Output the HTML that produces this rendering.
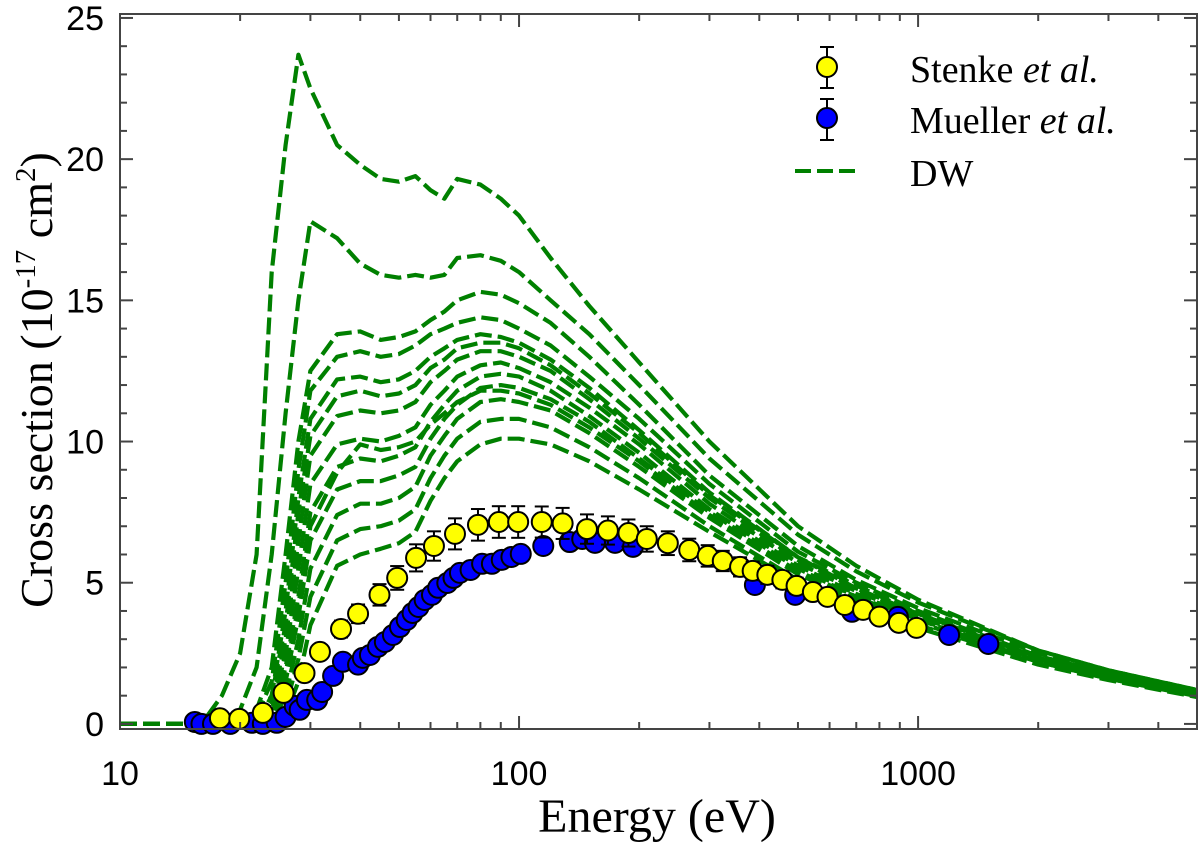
<!DOCTYPE html>
<html><head><meta charset="utf-8"><style>
html,body{margin:0;padding:0;background:#fff;}
svg{display:block;}
</style></head><body>
<svg id="chart" width="1200" height="845" xmlns="http://www.w3.org/2000/svg">
<rect x="0" y="0" width="1200" height="845" fill="#fff"/>
<g id="curves"></g>
<g id="points"></g>
<g id="axes"></g>
<text x="657" y="832" text-anchor="middle" font-family="Liberation Serif, serif" font-size="48">Energy (eV)</text>
<text transform="translate(52,380) rotate(-90)" text-anchor="middle" font-family="Liberation Serif, serif" font-size="46">Cross section (10<tspan dy="-17" font-size="29">-17</tspan><tspan dy="17"> cm</tspan><tspan dy="-17" font-size="29">2</tspan><tspan dy="17">)</tspan></text>
<g>
 <g>
  <line x1="827" y1="47" x2="827" y2="88" stroke="#000" stroke-width="2"/>
  <line x1="820" y1="47" x2="834" y2="47" stroke="#000" stroke-width="2"/>
  <line x1="820" y1="88" x2="834" y2="88" stroke="#000" stroke-width="2"/>
  <circle cx="827" cy="67" r="10" fill="#ffff00" stroke="#000" stroke-width="2"/>
  <text x="910" y="82" font-family="Liberation Serif, serif" font-size="38">Stenke <tspan font-style="italic">et al.</tspan></text>
 </g>
 <g>
  <line x1="827" y1="99" x2="827" y2="140" stroke="#000" stroke-width="2"/>
  <line x1="820" y1="99" x2="834" y2="99" stroke="#000" stroke-width="2"/>
  <line x1="820" y1="140" x2="834" y2="140" stroke="#000" stroke-width="2"/>
  <circle cx="827" cy="118" r="10" fill="#0000ff" stroke="#000" stroke-width="2"/>
  <text x="910" y="133" font-family="Liberation Serif, serif" font-size="38">Mueller <tspan font-style="italic">et al.</tspan></text>
 </g>
 <g>
  <line x1="795" y1="171" x2="858" y2="171" stroke="#008000" stroke-width="4" stroke-dasharray="16,6"/>
  <text x="910" y="186" font-family="Liberation Serif, serif" font-size="38">DW</text>
 </g>
</g>
</svg>
<script>
const energyGrid=[10,16,18,20,22,24,26,28,30,35,40,45,50,55,60,65,70,80,90,100,120,150,200,300,500,700,1000,2000,3000,5000];
const dw1=[0,0,1,2.5,6,16,20.5,23.7,22.5,20.5,19.8,19.3,19.2,19.4,18.9,18.6,19.3,19.1,18.6,18,16.5,14.8,12.8,10,7,5.6,4.4,2.6,1.9,1.2];
const dw2=[0,0,0,0.5,2,6,11,15,17.8,17.2,16.3,15.9,15.8,15.9,15.8,15.9,16.5,16.6,16.4,16,15,13.8,12,9.4,6.7,5.4,4.3,2.6,1.9,1.2];
const dw3=[0,0,0,0,0.5,2,6,10,12.5,13.8,13.9,13.6,13.7,13.9,14.3,14.6,15,15.3,15.2,14.9,14.2,13,11.3,8.8,6.3,5.1,4.1,2.5,1.8,1.1];
const dw4=[0,0,0,0,0.3,1.5,5,9,11.8,13,13.2,13,13.1,13.4,13.8,14,14.2,14.4,14.3,14,13.4,12.3,10.8,8.5,6.1,5,4,2.4,1.8,1.1];
const dw5=[0,0,0,0,0.2,1,4,8,10.8,12.2,12.3,12.1,12.2,12.5,13,13.3,13.6,13.8,13.7,13.5,12.9,11.9,10.4,8.2,5.9,4.9,3.9,2.4,1.7,1.05];
const dw6=[0,0,0,0,0,1,3.5,7.5,10.2,11.6,11.8,11.6,11.7,12,12.6,12.9,13.3,13.5,13.5,13.3,12.7,11.7,10.3,8.1,5.9,4.8,3.9,2.35,1.7,1.05];
const dw7=[0,0,0,0,0,0.7,3,6.5,9.5,10.9,11.1,11,11.1,11.4,12.1,12.5,12.9,13.2,13.2,13,12.5,11.5,10.1,8,5.8,4.8,3.8,2.3,1.7,1.05];
const dw8=[0,0,0,0,0,0.5,2.5,5.5,8.5,9.9,10.1,10,10.2,10.5,11.3,11.8,12.3,12.7,12.8,12.6,12.1,11.2,9.9,7.8,5.7,4.7,3.8,2.3,1.7,1.0];
const dw9=[0,0,0,0,0,0.2,1.8,4.2,7,8.9,9.9,9.7,9.8,10,10.6,11,11.4,11.8,11.8,11.7,11.3,10.5,9.3,7.4,5.4,4.5,3.6,2.2,1.62,1.0];
const dw10=[0,0,0,0,0,0.3,2,4.5,7.5,9.1,9.4,9.3,9.5,9.8,10.7,11.3,11.8,12.3,12.4,12.3,11.8,10.9,9.6,7.6,5.6,4.6,3.7,2.3,1.7,1.0];
const dw11=[0,0,0,0,0,0.2,1.5,3.8,6.5,8.3,8.6,8.6,8.8,9.1,10.1,10.8,11.3,11.9,12,11.9,11.5,10.7,9.4,7.5,5.5,4.5,3.7,2.2,1.65,1.0];
const dw12=[0,0,0,0,0,0,1,3,5.5,7.4,7.8,7.8,8,8.4,9.5,10.2,10.8,11.4,11.5,11.4,11.1,10.3,9.1,7.3,5.3,4.4,3.6,2.2,1.6,1.0];
const dw13=[0,0,0,0,0,0,0.6,2.3,4.5,6.5,6.9,7,7.2,7.6,8.7,9.5,10.1,10.7,10.8,10.8,10.5,9.8,8.7,7,5.1,4.3,3.5,2.2,1.6,0.98];
const dw14=[0,0,0,0,0,0,0.3,1.5,3.5,5.6,6,6.2,6.4,6.8,7.9,8.7,9.3,9.9,10.1,10.1,9.9,9.3,8.3,6.8,5,4.2,3.4,2.1,1.55,0.95];
const dwSeries=[dw1,dw2,dw3,dw4,dw5,dw6,dw7,dw8,dw9,dw10,dw11,dw12,dw13,dw14];

const stenkeE=[17.8,19.9,22.8,25.7,29.0,31.7,35.8,39.5,44.7,49.5,55.2,61.2,69.1,78.9,89,99.5,114,128.6,148,167,188,209,236,267,297,324,358,385,419,457,496,545,593,655,728,800,895,991];
const stenkeV=[0.2,0.18,0.39,1.1,1.8,2.55,3.36,3.9,4.57,5.17,5.88,6.3,6.73,7.05,7.15,7.15,7.15,7.1,6.9,6.85,6.76,6.55,6.4,6.16,5.95,5.77,5.56,5.42,5.28,5.1,4.89,4.67,4.5,4.21,4.04,3.8,3.58,3.4];
const stenkeErr=[0.1,0.1,0.12,0.15,0.2,0.25,0.3,0.33,0.38,0.42,0.48,0.52,0.55,0.56,0.56,0.56,0.55,0.55,0.52,0.5,0.48,0.45,0.42,0.4,0.38,0.36,0.34,0.33,0.32,0.3,0.29,0.28,0.26,0.25,0.24,0.22,0.21,0.2];
const muellerE=[15.4,16,17.1,18.9,21.4,22.8,24.7,26,27.4,28.2,29.4,31.2,32.1,34.2,36.2,39.5,40.6,42.3,44.3,46.1,48.3,50.3,52.3,54.1,56,58,60.5,62.7,66.1,68.5,71.1,75.6,80.8,85.5,90.5,95.7,101,115,134,144,155,174,193,390,492,683,890,1196,1500];
const muellerV=[0.07,0,0,0,0.04,0,0.04,0.25,0.64,0.5,0.85,0.85,1.13,1.7,2.2,2.1,2.34,2.44,2.73,2.9,3.15,3.43,3.68,3.93,4.14,4.39,4.57,4.82,4.99,5.17,5.35,5.45,5.67,5.67,5.81,5.91,6.02,6.3,6.44,6.55,6.41,6.41,6.27,4.92,4.57,3.97,3.79,3.15,2.83];

const xTickValues=[10,100,1000];
const xTickLabels=["10","100","1000"];
const yTickValues=[0,5,10,15,20,25];
const yTickLabels=["0","5","10","15","20","25"];

const L=120,R=1197,T=14,B=729;
const xMinLog=1,xMaxLog=Math.log10(5000);
const yMin=-0.18,yMax=25.14;
function xs(e){return L+(Math.log10(e)-xMinLog)/(xMaxLog-xMinLog)*(R-L);}
function ys(v){return B-(v-yMin)/(yMax-yMin)*(B-T);}
const NS="http://www.w3.org/2000/svg";
function mk(tag,attrs,parent){const el=document.createElementNS(NS,tag);for(const k in attrs)el.setAttribute(k,attrs[k]);parent.appendChild(el);return el;}

const cg=document.getElementById('curves');
dwSeries.forEach((s,i)=>{
  const d=s.map((v,j)=>(j?'L':'M')+xs(energyGrid[j]).toFixed(1)+','+ys(v).toFixed(1)).join(' ');
  const p=mk('path',{d:d,fill:'none',stroke:'#008000','stroke-width':4.2,'stroke-dasharray':'17,6','stroke-linejoin':'round'},cg);
  
  
});

const pg=document.getElementById('points');
muellerE.forEach((e,i)=>{
  const c=mk('circle',{cx:xs(e),cy:ys(muellerV[i]),r:10,fill:'#0000ff',stroke:'#000','stroke-width':2},pg);
  
  
});
stenkeE.forEach((e,i)=>{
  const x=xs(e),y0=ys(stenkeV[i]-stenkeErr[i]),y1=ys(stenkeV[i]+stenkeErr[i]);
  const g=mk('g',{},pg);
  
  
  mk('line',{x1:x,y1:y0,x2:x,y2:y1,stroke:'#000','stroke-width':2},g);
  mk('line',{x1:x-7,y1:y0,x2:x+7,y2:y0,stroke:'#000','stroke-width':2},g);
  mk('line',{x1:x-7,y1:y1,x2:x+7,y2:y1,stroke:'#000','stroke-width':2},g);
  mk('circle',{cx:x,cy:ys(stenkeV[i]),r:10,fill:'#ffff00',stroke:'#000','stroke-width':2},g);
});

const ag=document.getElementById('axes');
const fr=mk('rect',{x:L,y:T,width:R-L,height:B-T,fill:'none',stroke:'#444','stroke-width':2},ag);


for(let dec=10;dec<=1000;dec*=10){
  for(let m=1;m<=9;m++){
    const e=dec*m; if(e>5000)continue;
    const x=xs(e),len=m===1?13:7;
    mk('line',{x1:x,y1:B,x2:x,y2:B-len,stroke:'#444','stroke-width':2},ag);
    mk('line',{x1:x,y1:T,x2:x,y2:T+len,stroke:'#444','stroke-width':2},ag);
  }
}
for(let v=0;v<=25;v++){
  const y=ys(v),len=v%5===0?13:7;
  mk('line',{x1:L,y1:y,x2:L+len,y2:y,stroke:'#444','stroke-width':2},ag);
  mk('line',{x1:R,y1:y,x2:R-len,y2:y,stroke:'#444','stroke-width':2},ag);
}
xTickValues.forEach((v,i)=>{
  const t=mk('text',{x:xs(v),y:785,'text-anchor':'middle','font-family':'Liberation Sans, sans-serif','font-size':34},ag);
  t.textContent=xTickLabels[i];
  
  
});
yTickValues.forEach((v,i)=>{
  const t=mk('text',{x:104,y:ys(v)+12,'text-anchor':'end','font-family':'Liberation Sans, sans-serif','font-size':34},ag);
  t.textContent=yTickLabels[i];
  
  
});
</script>
</body></html>
